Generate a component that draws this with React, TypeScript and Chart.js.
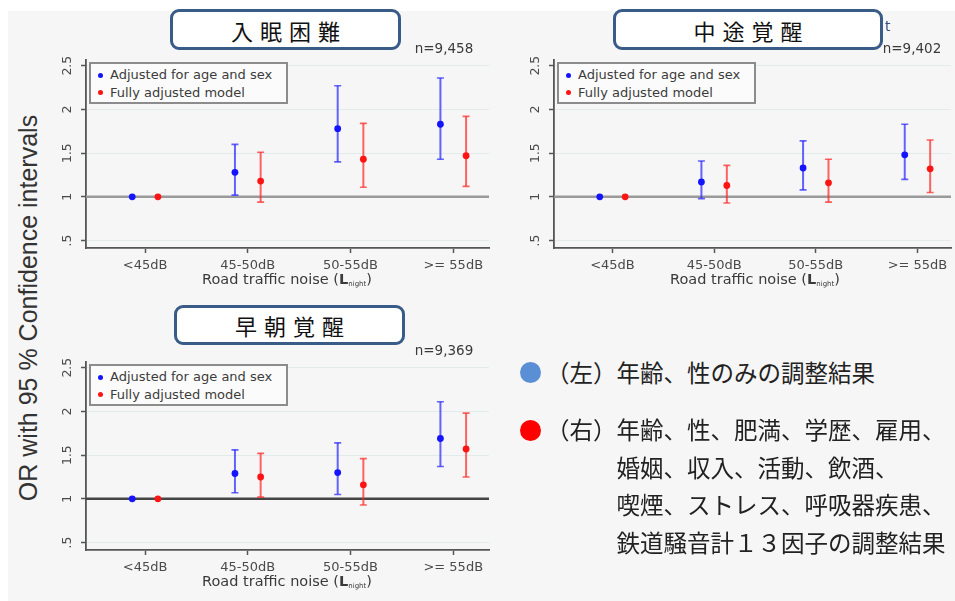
import React, { useEffect, useRef } from "react";
import { Chart, registerables } from "chart.js";

Chart.register(...registerables);

// Noise bands on the x axis
const NOISE_BANDS = ["<45dB", "45-50dB", "50-55dB", ">= 55dB"];
const Y_TICK_VALUES = [0.5, 1, 1.5, 2, 2.5];
const Y_TICK_LABELS = [".5", "1", "1.5", "2", "2.5"];

// 入眠困難 (n=9,458)
const ONSET_BASIC_OR = [1, 1.28, 1.78, 1.83];
const ONSET_BASIC_LO = [1, 1.02, 1.4, 1.43];
const ONSET_BASIC_HI = [1, 1.6, 2.27, 2.36];
const ONSET_FULL_OR = [1, 1.18, 1.43, 1.47];
const ONSET_FULL_LO = [1, 0.94, 1.11, 1.12];
const ONSET_FULL_HI = [1, 1.51, 1.84, 1.92];

// 中途覚醒 (n=9,402)
const WAKE_BASIC_OR = [1, 1.17, 1.33, 1.48];
const WAKE_BASIC_LO = [1, 0.98, 1.08, 1.2];
const WAKE_BASIC_HI = [1, 1.41, 1.64, 1.83];
const WAKE_FULL_OR = [1, 1.13, 1.16, 1.32];
const WAKE_FULL_LO = [1, 0.93, 0.94, 1.05];
const WAKE_FULL_HI = [1, 1.36, 1.43, 1.65];

// 早朝覚醒 (n=9,369)
const EARLY_BASIC_OR = [1, 1.29, 1.3, 1.69];
const EARLY_BASIC_LO = [1, 1.07, 1.05, 1.37];
const EARLY_BASIC_HI = [1, 1.56, 1.64, 2.11];
const EARLY_FULL_OR = [1, 1.25, 1.16, 1.57];
const EARLY_FULL_LO = [1, 1.02, 0.93, 1.25];
const EARLY_FULL_HI = [1, 1.52, 1.46, 1.98];

const SERIES_LABELS = ["Adjusted for age and sex", "Fully adjusted model"];

const LEGEND_LEFT = "年齢、性のみの調整結果";
const LEGEND_RIGHT_LINES = [
  "年齢、性、肥満、学歴、雇用、",
  "婚姻、収入、活動、飲酒、",
  "喫煙、ストレス、呼吸器疾患、",
  "鉄道騒音計１３因子の調整結果",
];

const DODGE = 0.125;
const AXIS_GREY = "#555";
const TICK_FONT = "'DejaVu Sans', sans-serif";

type Series = { or: number[]; lo: number[]; hi: number[] };

const errorBarPlugin = {
  id: "errorBars",
  beforeDatasetsDraw(chart: any, _args: any, opts: any) {
    const { ctx, chartArea, scales } = chart;
    const x = scales.x;
    const y = scales.y;
    ctx.save();
    // reference line at OR = 1
    const refY = y.getPixelForValue(1);
    ctx.strokeStyle = opts.refColor;
    ctx.lineWidth = 2.5;
    ctx.beginPath();
    ctx.moveTo(chartArea.left, refY);
    ctx.lineTo(chartArea.right, refY);
    ctx.stroke();

    chart.data.datasets.forEach((ds: any) => {
      ds.lo.forEach((lo: number, i: number) => {
        const hi = ds.hi[i];
        if (lo === hi) return;
        const px = x.getPixelForValue(ds.data[i].x);
        const pLo = y.getPixelForValue(lo);
        const pHi = y.getPixelForValue(hi);
        ctx.strokeStyle = ds.barColor;
        ctx.lineWidth = 2;
        ctx.beginPath();
        ctx.moveTo(px, pLo);
        ctx.lineTo(px, pHi);
        ctx.stroke();
        ctx.lineWidth = 1.6;
        ctx.beginPath();
        ctx.moveTo(px - 3.5, pLo);
        ctx.lineTo(px + 3.5, pLo);
        ctx.moveTo(px - 3.5, pHi);
        ctx.lineTo(px + 3.5, pHi);
        ctx.stroke();
      });
    });
    ctx.restore();
  },
};

type PanelProps = {
  ox: number;
  oy: number;
  plotRight: number;
  rightPad: number;
  xMax: number;
  basic: Series;
  full: Series;
  refColor: string;
  title: string;
  titleBox: { left: number; top: number; width: number; height: number };
  n: string;
};

function Panel(p: PanelProps) {
  const ref = useRef<HTMLCanvasElement | null>(null);
  const canvasLeft = p.ox + 30;
  const canvasTop = p.oy + 30;
  const width = p.plotRight - canvasLeft + p.rightPad;
  const height = 255;
  const area = { left: 56, top: 30, bottom: 218 };

  useEffect(() => {
    const canvas = ref.current;
    if (!canvas) return;
    const mk = (s: Series, shift: number, dot: string, bar: string, label: string) => ({
      label,
      data: s.or.map((v, i) => ({ x: i + 1 + shift, y: v })),
      lo: s.lo,
      hi: s.hi,
      barColor: bar,
      pointRadius: 3.4,
      pointBackgroundColor: dot,
      pointBorderWidth: 0,
      showLine: false,
    });
    const chart = new Chart(canvas, {
      type: "scatter",
      data: {
        datasets: [
          mk(p.basic, -DODGE, "#1414ff", "rgba(40,40,255,0.72)", SERIES_LABELS[0]),
          mk(p.full, DODGE, "#ff1414", "rgba(255,40,40,0.72)", SERIES_LABELS[1]),
        ] as any,
      },
      options: {
        animation: false,
        responsive: false,
        maintainAspectRatio: false,
        events: [],
        layout: {
          padding: { left: 0, top: area.top, right: p.rightPad, bottom: 0 },
        },
        plugins: {
          legend: { display: false },
          tooltip: { enabled: false },
          errorBars: { refColor: p.refColor },
        } as any,
        scales: {
          x: {
            type: "linear",
            min: 0.425,
            max: p.xMax,
            afterBuildTicks: (s: any) => {
              s.ticks = [1, 2, 3, 4].map((v) => ({ value: v }));
            },
            afterFit: (s: any) => {
              s.height = height - area.bottom;
            },
            ticks: {
              autoSkip: false,
              maxRotation: 0,
              padding: 5,
              color: "#4a4a4a",
              font: { family: TICK_FONT, size: 13 },
              callback: (v: any) => NOISE_BANDS[Math.round(v) - 1],
            },
            grid: {
              drawOnChartArea: false,
              tickLength: 5,
              tickColor: AXIS_GREY,
              tickWidth: 1.5,
            },
            border: { display: true, color: AXIS_GREY, width: 1.8 },
          },
          y: {
            min: 0.415,
            max: 2.565,
            afterBuildTicks: (s: any) => {
              s.ticks = Y_TICK_VALUES.map((v) => ({ value: v }));
            },
            afterFit: (s: any) => {
              s.width = area.left;
            },
            ticks: {
              minRotation: 90,
              maxRotation: 90,
              crossAlign: "center",
              padding: 3,
              color: "#4a4a4a",
              font: { family: TICK_FONT, size: 12.5 },
              callback: (_v: any, i: number) => Y_TICK_LABELS[i],
            },
            grid: {
              color: "rgba(200,222,222,0.45)",
              lineWidth: 1,
              tickLength: 5,
              tickColor: AXIS_GREY,
              tickWidth: 1.5,
            },
            border: { display: true, color: AXIS_GREY, width: 1.8 },
          },
        },
      } as any,
      plugins: [errorBarPlugin],
    });
    return () => chart.destroy();
  }, []);

  const legendLeft = p.ox + 89;
  const legendTop = p.oy + 62;

  return (
    <>
      <canvas
        ref={ref}
        width={width}
        height={height}
        style={{ position: "absolute", left: canvasLeft, top: canvasTop, width, height }}
      />
      <div
        style={{
          position: "absolute",
          left: legendLeft,
          top: legendTop,
          width: 199,
          height: 42,
          boxSizing: "border-box",
          border: "2px solid #8c8c8c",
          background: "#fbfbfb",
          fontFamily: TICK_FONT,
          fontSize: 13,
          color: "#3c3c3c",
        }}
      >
        {SERIES_LABELS.map((t, i) => (
          <div
            key={t}
            style={{
              position: "absolute",
              left: 19,
              top: 3 + i * 17.5,
              lineHeight: "16px",
              whiteSpace: "nowrap",
            }}
          >
            <span
              style={{
                position: "absolute",
                left: -12,
                top: 5.5,
                width: 5,
                height: 5,
                borderRadius: "50%",
                background: i === 0 ? "#1414ff" : "#ff1414",
              }}
            />
            {t}
          </div>
        ))}
      </div>
      <div
        style={{
          position: "absolute",
          left: p.ox + 384,
          top: p.oy + 39,
          width: 120,
          textAlign: "center",
          fontFamily: TICK_FONT,
          fontSize: 13.5,
          lineHeight: "18px",
          color: "#3a3a3a",
        }}
      >
        {p.n}
      </div>
      <div
        style={{
          position: "absolute",
          left: p.ox + 137,
          top: p.oy + 270,
          width: 300,
          textAlign: "center",
          fontFamily: TICK_FONT,
          fontSize: 14.5,
          lineHeight: "18px",
          color: "#3a3a3a",
          whiteSpace: "nowrap",
        }}
      >
        Road traffic noise (<b>L</b>
        <sub style={{ fontSize: 7, verticalAlign: "-2px" }}>night</sub>)
      </div>
      <div
        style={{
          position: "absolute",
          left: p.titleBox.left,
          top: p.titleBox.top,
          width: p.titleBox.width,
          height: p.titleBox.height,
          boxSizing: "border-box",
          border: "3px solid #385b87",
          borderRadius: 9,
          background: "#fff",
          display: "flex",
          alignItems: "center",
          justifyContent: "center",
          fontFamily: "'Noto Sans CJK JP', sans-serif",
          fontSize: 22,
          letterSpacing: 7,
          paddingLeft: 7,
          color: "#111",
        }}
      >
        {p.title}
      </div>
    </>
  );
}

export default function App() {
  return (
    <div
      style={{
        position: "fixed",
        left: 0,
        top: 0,
        width: 955,
        height: 601,
        background: "#fff",
        overflow: "hidden",
      }}
    >
      <div style={{ position: "absolute", left: 8, top: 11, right: 0, bottom: 0, background: "#f6f6f6" }} />
      <div
        style={{
          position: "absolute",
          left: 28 - 210,
          top: 308 - 16,
          width: 420,
          height: 32,
          lineHeight: "32px",
          textAlign: "center",
          transform: "rotate(-90deg)",
          fontFamily: "'Liberation Sans', Arial, sans-serif",
          fontSize: 25,
          color: "#333",
          whiteSpace: "nowrap",
        }}
      >
        OR with 95 % Confidence intervals
      </div>
      <Panel
        ox={0}
        oy={0}
        plotRight={489}
        rightPad={11}
        xMax={4.348}
        basic={{ or: ONSET_BASIC_OR, lo: ONSET_BASIC_LO, hi: ONSET_BASIC_HI }}
        full={{ or: ONSET_FULL_OR, lo: ONSET_FULL_LO, hi: ONSET_FULL_HI }}
        refColor="#9a9a9a"
        title="入眠困難"
        titleBox={{ left: 170, top: 9, width: 231, height: 41 }}
        n="n=9,458"
      />
      <Panel
        ox={468}
        oy={0}
        plotRight={955}
        rightPad={0}
        xMax={4.33}
        basic={{ or: WAKE_BASIC_OR, lo: WAKE_BASIC_LO, hi: WAKE_BASIC_HI }}
        full={{ or: WAKE_FULL_OR, lo: WAKE_FULL_LO, hi: WAKE_FULL_HI }}
        refColor="#9a9a9a"
        title="中途覚醒"
        titleBox={{ left: 613, top: 9, width: 270, height: 41 }}
        n="n=9,402"
      />
      <div
        style={{
          position: "absolute",
          left: 885,
          top: 17,
          fontFamily: TICK_FONT,
          fontSize: 14,
          lineHeight: "18px",
          color: "#34507e",
        }}
      >
        t
      </div>
      <Panel
        ox={0}
        oy={302}
        plotRight={489}
        rightPad={11}
        xMax={4.348}
        basic={{ or: EARLY_BASIC_OR, lo: EARLY_BASIC_LO, hi: EARLY_BASIC_HI }}
        full={{ or: EARLY_FULL_OR, lo: EARLY_FULL_LO, hi: EARLY_FULL_HI }}
        refColor="#454545"
        title="早朝覚醒"
        titleBox={{ left: 174, top: 305, width: 231, height: 40 }}
        n="n=9,369"
      />
      {/* explanation of the two models */}
      <div
        style={{
          position: "absolute",
          left: 520,
          top: 362,
          width: 21,
          height: 21,
          borderRadius: "50%",
          background: "#5a8fd6",
        }}
      />
      <div
        style={{
          position: "absolute",
          left: 520,
          top: 420,
          width: 21,
          height: 21,
          borderRadius: "50%",
          background: "#ff0000",
        }}
      />
      <div
        style={{
          position: "absolute",
          left: 546,
          top: 353,
          fontFamily: "'Noto Sans CJK JP', sans-serif",
          fontSize: 23.5,
          lineHeight: "38px",
          color: "#222",
          whiteSpace: "nowrap",
        }}
      >
        （左）{LEGEND_LEFT}
      </div>
      <div
        style={{
          position: "absolute",
          left: 546,
          top: 411,
          fontFamily: "'Noto Sans CJK JP', sans-serif",
          fontSize: 23.5,
          lineHeight: "37.7px",
          color: "#222",
          whiteSpace: "nowrap",
        }}
      >
        <div style={{ position: "absolute", left: 0, top: 0 }}>（右）</div>
        <div style={{ position: "absolute", left: 70.5, top: 0 }}>
          {LEGEND_RIGHT_LINES.map((l) => (
            <div key={l}>{l}</div>
          ))}
        </div>
      </div>
    </div>
  );
}
